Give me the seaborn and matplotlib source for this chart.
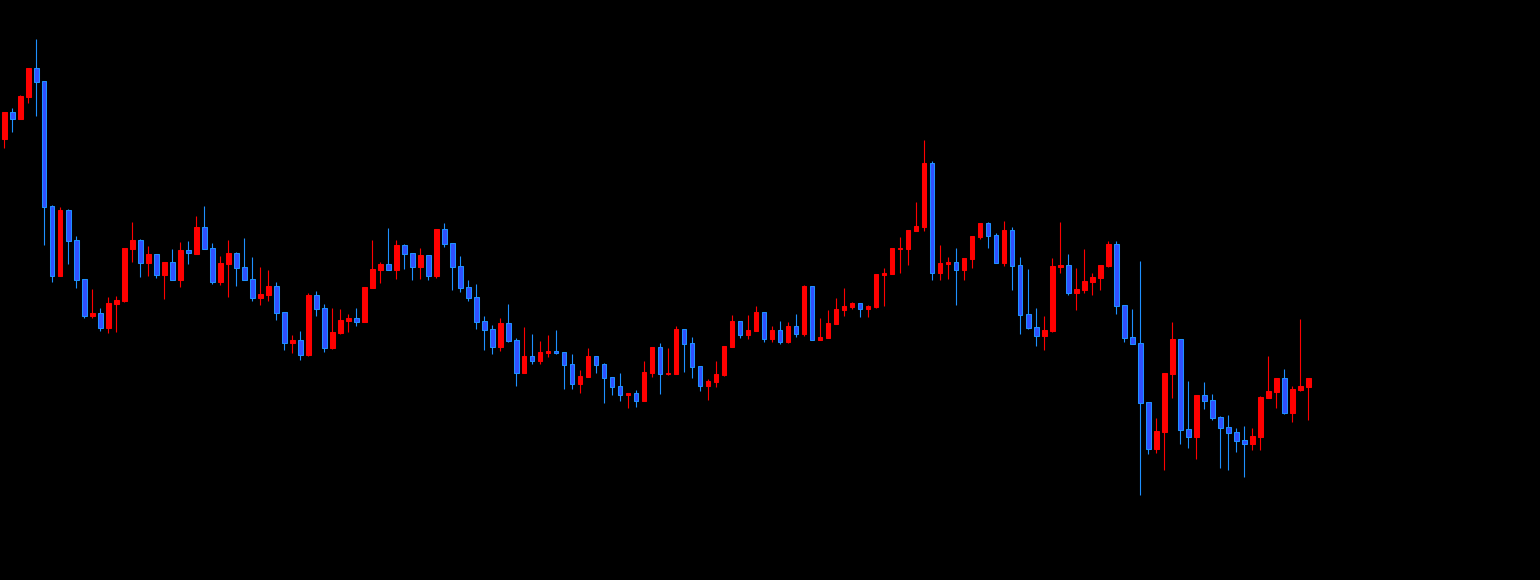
import numpy as np
import pandas as pd
import matplotlib
matplotlib.use("Agg")
import matplotlib.pyplot as plt
import seaborn as sns

# ===============================
# Data (OHLC)
# ===============================
opens = [461.3, 488.0, 481.0, 503.3, 532.0, 519.0, 394.0, 324.3, 390.0, 360.0,
         321.0, 284.3, 287.0, 272.3, 296.3, 299.0, 351.3, 360.0, 337.3, 346.0,
         325.3, 338.0, 320.3, 350.0, 346.3, 373.0, 352.0, 318.3, 336.3, 347.0,
         333.0, 321.0, 302.3, 305.3, 314.0, 288.0, 257.3, 260.0, 245.3, 305.0,
         292.0, 252.3, 267.0, 279.0, 282.0, 278.3, 312.3, 330.3, 336.0, 330.3,
         355.0, 347.0, 333.3, 345.0, 324.3, 371.0, 357.0, 334.0, 313.0, 303.0,
         279.0, 271.0, 253.3, 277.0, 260.0, 227.3, 244.0, 239.3, 247.0, 249.0,
         248.0, 236.0, 216.3, 223.3, 244.0, 236.0, 223.0, 214.0, 205.3, 207.0,
         199.3, 227.3, 253.0, 226.3, 226.3, 271.0, 257.0, 234.0, 214.3, 218.3,
         225.3, 253.3, 279.0, 265.3, 269.3, 288.0, 261.3, 270.0, 258.3, 274.0,
         266.3, 314.0, 260.3, 262.3, 276.3, 290.3, 293.0, 297.0, 291.0, 293.0,
         325.0, 326.0, 351.3, 351.0, 369.0, 373.0, 437.0, 327.3, 336.3, 338.0,
         330.3, 341.3, 363.3, 377.0, 365.0, 337.3, 370.0, 335.0, 286.0, 273.0,
         264.3, 269.3, 333.0, 335.0, 307.3, 310.3, 318.3, 322.3, 334.3, 356.0,
         295.0, 263.0, 257.0, 198.0, 151.3, 168.3, 226.3, 261.0, 171.0, 163.3,
         205.0, 200.0, 183.0, 173.0, 168.0, 160.0, 156.3, 163.3, 202.3, 208.3,
         222.0, 187.3, 210.0, 213.3]
highs = [488.0, 492.0, 505.0, 532.0, 561.0, 519.0, 395.0, 393.0, 391.0, 364.0,
         321.0, 311.0, 292.0, 303.0, 304.0, 352.0, 378.0, 361.0, 354.0, 346.0,
         338.0, 351.0, 358.0, 359.0, 384.0, 394.0, 357.0, 344.0, 360.0, 348.0,
         362.0, 343.0, 333.0, 330.0, 318.0, 288.0, 265.0, 269.0, 307.0, 309.0,
         296.0, 292.0, 291.0, 286.0, 292.0, 313.0, 360.0, 338.0, 372.0, 360.0,
         356.0, 347.0, 352.0, 345.0, 371.0, 377.0, 357.0, 344.0, 320.0, 316.0,
         284.0, 275.0, 282.0, 296.0, 262.0, 273.0, 266.0, 259.0, 265.0, 270.0,
         248.0, 246.0, 230.0, 252.0, 244.0, 237.0, 223.0, 227.0, 207.0, 210.0,
         239.0, 253.0, 257.0, 252.0, 274.0, 271.0, 263.0, 234.0, 221.3, 239.3,
         254.0, 285.0, 279.0, 285.0, 294.0, 288.0, 274.0, 279.0, 278.0, 286.0,
         315.0, 314.0, 282.0, 290.0, 302.0, 312.0, 298.0, 297.0, 295.0, 326.0,
         332.0, 352.0, 363.0, 370.0, 398.0, 460.0, 439.0, 355.0, 343.0, 352.0,
         342.0, 364.0, 377.0, 378.0, 367.0, 379.0, 373.0, 343.0, 331.0, 292.0,
         284.0, 342.0, 378.0, 346.0, 332.0, 351.0, 327.0, 335.0, 359.0, 359.0,
         295.0, 291.0, 339.0, 198.0, 182.0, 227.0, 278.0, 261.0, 219.0, 205.0,
         218.0, 206.0, 184.0, 185.0, 172.0, 174.0, 172.0, 204.0, 244.0, 222.0,
         231.0, 214.0, 281.0, 222.0]
lows = [452.3, 468.3, 481.0, 497.3, 484.3, 355.0, 318.3, 324.3, 336.3, 312.3,
        282.3, 282.3, 269.0, 267.0, 268.3, 298.3, 338.3, 323.3, 324.3, 322.3,
        301.3, 320.3, 313.3, 336.3, 346.3, 351.3, 316.3, 315.3, 303.3, 314.3,
        320.3, 299.3, 295.3, 299.3, 280.3, 250.3, 247.3, 240.3, 244.3, 284.3,
        248.3, 251.3, 266.3, 268.3, 274.3, 278.3, 312.3, 317.3, 330.3, 321.0,
        331.3, 320.3, 321.0, 320.3, 322.3, 353.3, 310.3, 308.3, 299.3, 271.3,
        250.3, 246.3, 249.3, 258.3, 214.3, 227.3, 236.3, 236.3, 243.0, 246.0,
        211.3, 211.3, 207.3, 223.3, 227.3, 197.3, 205.3, 199.3, 192.3, 193.3,
        199.3, 223.3, 206.3, 225.3, 226.3, 228.3, 222.3, 209.3, 200.3, 213.3,
        224.3, 253.3, 262.3, 261.3, 269.3, 258.3, 258.3, 256.3, 257.3, 263.3,
        264.3, 260.3, 260.3, 262.3, 276.3, 284.3, 291.0, 283.3, 283.0, 292.0,
        294.0, 326.0, 327.0, 335.0, 369.0, 369.0, 320.3, 320.3, 321.3, 295.3,
        320.3, 332.3, 361.0, 352.3, 337.3, 334.3, 310.3, 266.3, 271.3, 254.3,
        250.3, 268.3, 327.3, 305.3, 290.3, 307.3, 305.3, 310.3, 333.3, 286.3,
        258.3, 256.3, 105.3, 146.3, 147.3, 130.3, 202.3, 156.3, 152.3, 141.3,
        191.3, 180.3, 132.3, 130.3, 148.3, 123.3, 150.3, 150.3, 202.3, 192.3,
        186.3, 178.3, 209.0, 180.3]
closes = [488.0, 481.3, 504.3, 532.0, 518.3, 393.3, 324.3, 390.0, 359.3, 320.3,
          284.3, 287.0, 272.3, 297.0, 300.0, 352.0, 360.0, 337.3, 346.0, 325.3,
          338.0, 320.3, 350.0, 346.7, 373.0, 351.3, 318.3, 337.0, 347.0, 332.3,
          320.3, 302.3, 306.0, 314.0, 287.3, 257.3, 260.0, 245.3, 305.0, 291.3,
          252.3, 268.0, 280.0, 282.0, 278.3, 313.0, 331.0, 336.0, 330.3, 355.0,
          346.3, 333.3, 345.0, 324.3, 371.0, 356.3, 333.3, 312.3, 302.3, 278.3,
          270.3, 253.3, 277.0, 259.3, 227.3, 244.0, 239.3, 248.0, 249.0, 247.0,
          235.3, 216.3, 224.0, 244.0, 235.3, 222.3, 213.3, 205.3, 207.0, 199.3,
          228.0, 253.0, 226.3, 227.3, 271.0, 256.3, 233.3, 214.3, 219.3, 226.3,
          254.0, 279.0, 265.3, 270.0, 288.0, 261.3, 270.0, 258.3, 274.0, 266.3,
          314.0, 260.3, 263.0, 277.0, 291.0, 294.0, 297.0, 291.3, 294.0, 326.0,
          327.0, 352.0, 352.3, 370.0, 374.0, 437.0, 327.3, 337.0, 338.0, 330.3,
          342.0, 364.0, 377.0, 364.3, 337.3, 370.0, 334.3, 285.3, 272.3, 264.3,
          270.0, 334.0, 335.0, 307.3, 311.0, 319.0, 323.0, 335.0, 356.0, 294.3,
          262.3, 256.3, 197.3, 151.3, 169.0, 227.0, 261.0, 170.3, 163.3, 205.0,
          199.3, 182.3, 172.3, 167.3, 159.3, 156.3, 164.0, 203.0, 209.0, 222.0,
          187.3, 211.0, 214.0, 222.0]

# ===============================
# Styling
# ===============================
sns.set_theme(style="dark", rc={"axes.facecolor": "black",
                                "figure.facecolor": "black"})

UP_COLOR = "#ff0000"
DOWN_FILL = "#3050ff"
DOWN_EDGE = "#1e90ff"

df = pd.DataFrame({"open": opens, "high": highs, "low": lows, "close": closes})
df["idx"] = np.arange(len(df))
df["up"] = df["close"] >= df["open"]
df["bottom"] = df[["open", "close"]].min(axis=1)
df["height"] = (df["close"] - df["open"]).abs().clip(lower=1.2)

fig = plt.figure(figsize=(15.4, 5.8), dpi=100)
ax = fig.add_axes([0, 0, 1, 1])
ax.set_facecolor("black")

# wicks
wick_colors = np.where(df["up"], UP_COLOR, DOWN_EDGE)
ax.vlines(df["idx"], df["low"], df["high"], colors=wick_colors,
          linewidth=0.8, zorder=1)

# bodies
up = df[df["up"]]
down = df[~df["up"]]
ax.bar(up["idx"], up["height"], bottom=up["bottom"], width=0.55,
       color=UP_COLOR, edgecolor=UP_COLOR, linewidth=0.75, zorder=2)
ax.bar(down["idx"], down["height"], bottom=down["bottom"], width=0.55,
       color=DOWN_FILL, edgecolor=DOWN_EDGE, linewidth=0.75, zorder=2)

ax.set_xlim(-0.5375, 191.9625)
ax.set_ylim(20, 600)
ax.axis("off")

fig.savefig("out.png", dpi=100, facecolor="black")
